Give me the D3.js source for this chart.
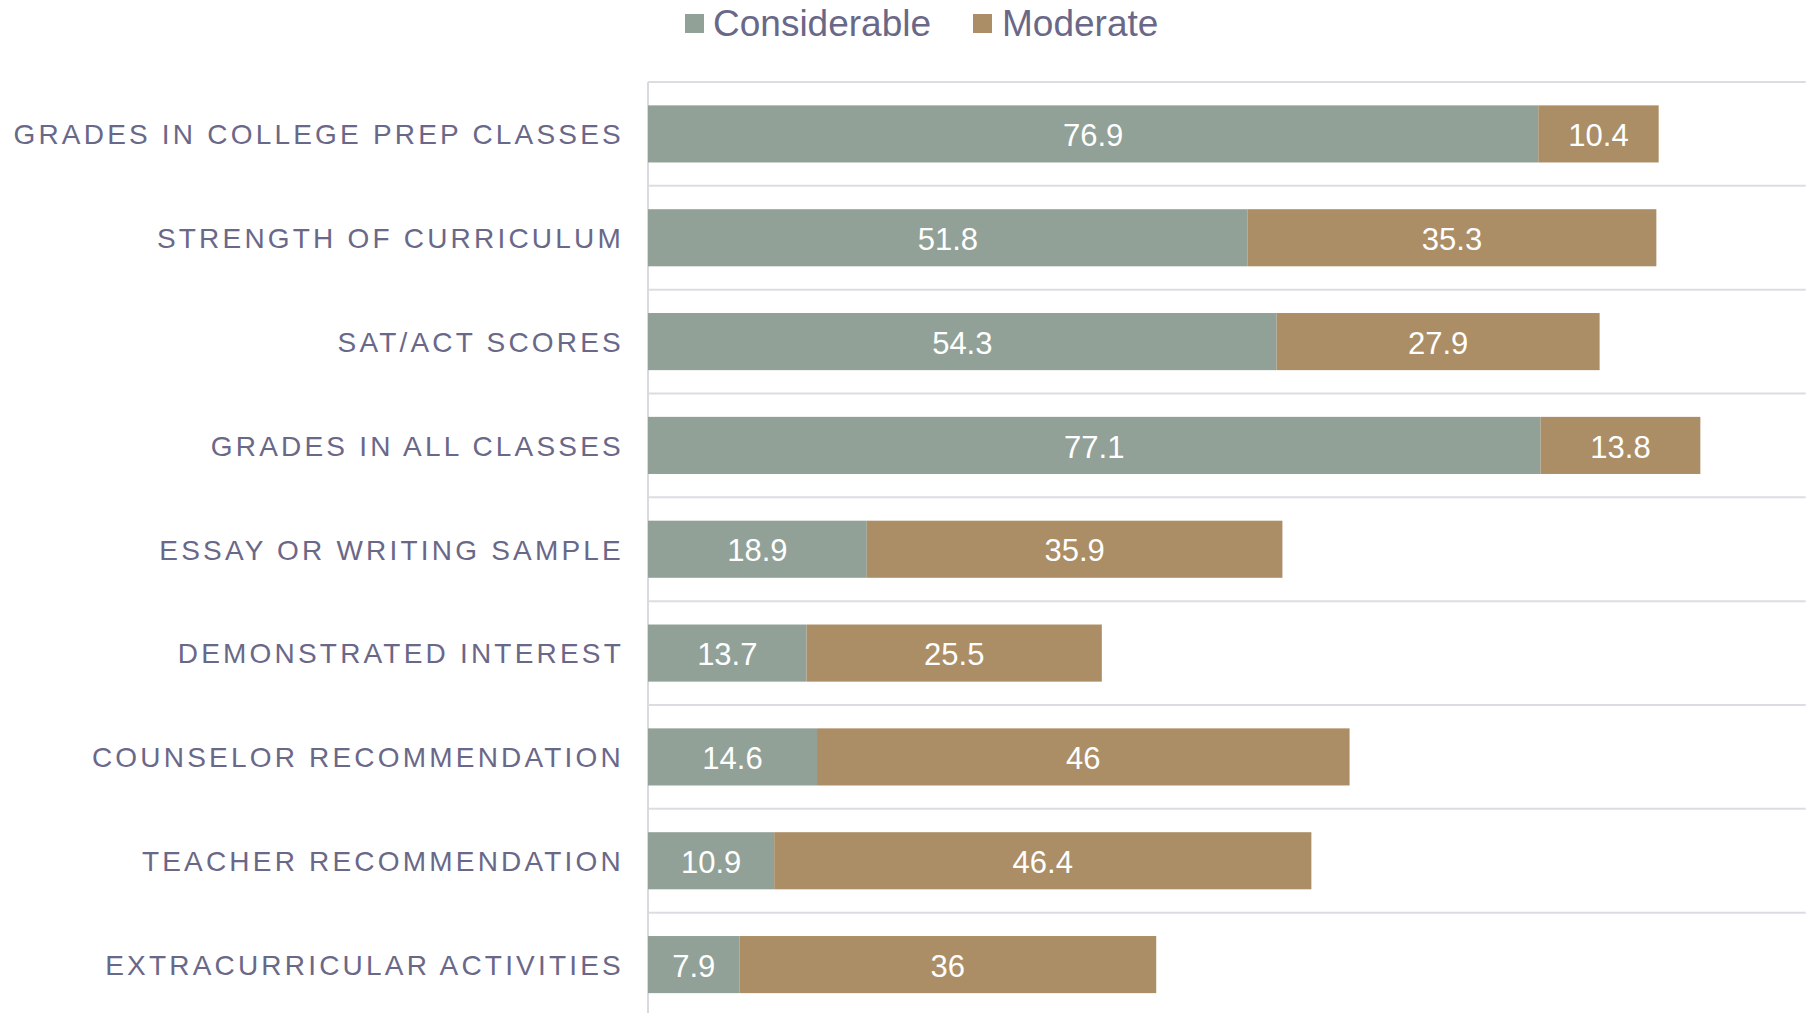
<!DOCTYPE html>
<html><head><meta charset="utf-8">
<script src="https://cdn.jsdelivr.net/npm/d3@7"></script>
<style>html,body{margin:0;padding:0;background:#fff;overflow:hidden}</style>
</head><body>
<svg id="chart" width="1810" height="1013"></svg>
<script>
const categories = ["GRADES IN COLLEGE PREP CLASSES","STRENGTH OF CURRICULUM","SAT/ACT SCORES","GRADES IN ALL CLASSES","ESSAY OR WRITING SAMPLE","DEMONSTRATED INTEREST","COUNSELOR RECOMMENDATION","TEACHER RECOMMENDATION","EXTRACURRICULAR ACTIVITIES"];
const considerable = [76.9, 51.8, 54.3, 77.1, 18.9, 13.7, 14.6, 10.9, 7.9];
const moderate = [10.4, 35.3, 27.9, 13.8, 35.9, 25.5, 46, 46.4, 36];
const seriesNames = ["Considerable","Moderate"];
const colors = ["#92a197","#ab8e66"];
const textColor = "#6a6888";

(function(){
const svg = d3.select("#chart");
const pLeft = 648, pRight = 1805.7, pTop = 82, pBottom = 1016.5;
const x = d3.scaleLinear().domain([0,100]).range([pLeft,pRight]);
const y = d3.scaleBand().domain(categories).range([pTop,pBottom]).paddingInner(0.45).paddingOuter(0.225);
const step = y.step();

// gridlines at band boundaries
svg.append("g").selectAll("line").data(categories).join("line")
  .attr("x1", pLeft).attr("x2", pRight)
  .attr("y1", d => y(d) - y.paddingOuter()*step)
  .attr("y2", d => y(d) - y.paddingOuter()*step)
  .attr("stroke","#dcdce3").attr("stroke-width",2);
// axis line
svg.append("line").attr("x1",pLeft).attr("x2",pLeft).attr("y1",pTop).attr("y2",1013)
  .attr("stroke","#d9d9e0").attr("stroke-width",2);

const rows = categories.map((c,i)=>({c, v:[considerable[i], moderate[i]]}));
rows.forEach(r=>{
  let acc = 0;
  r.v.forEach((v,k)=>{
    const x0 = x(acc), x1 = x(acc+v);
    svg.append("rect").attr("x",x0).attr("y",y(r.c)).attr("width",x1-x0).attr("height",y.bandwidth())
      .attr("fill",colors[k]);
    svg.append("text").attr("x",(x0+x1)/2).attr("y",y(r.c)+y.bandwidth()/2)
      .attr("dy","0.39em").attr("text-anchor","middle")
      .attr("font-family","Liberation Sans, Arial, sans-serif").attr("font-size",31)
      .attr("fill","#fff").text(v);
    acc += v;
  });
});

// category labels
svg.selectAll("text.cat").data(categories).join("text")
  .attr("class","cat")
  .attr("x", 624).attr("y", d => y(d)+y.bandwidth()/2)
  .attr("dy","0.37em").attr("text-anchor","end")
  .attr("font-family","Liberation Sans, Arial, sans-serif").attr("font-size",28)
  .attr("letter-spacing","3.2px")
  .attr("fill",textColor).text(d=>d);

// legend
const leg = [{name:seriesNames[0], sx:685, tx:713},{name:seriesNames[1], sx:973, tx:1002}];
leg.forEach((l,i)=>{
  svg.append("rect").attr("x",l.sx).attr("y",14).attr("width",19).attr("height",19).attr("fill",colors[i]);
  svg.append("text").attr("x",l.tx).attr("y",36).attr("font-family","Liberation Sans, Arial, sans-serif")
    .attr("font-size",37).attr("fill",textColor).text(l.name);
});
})();
</script>
</body></html>
